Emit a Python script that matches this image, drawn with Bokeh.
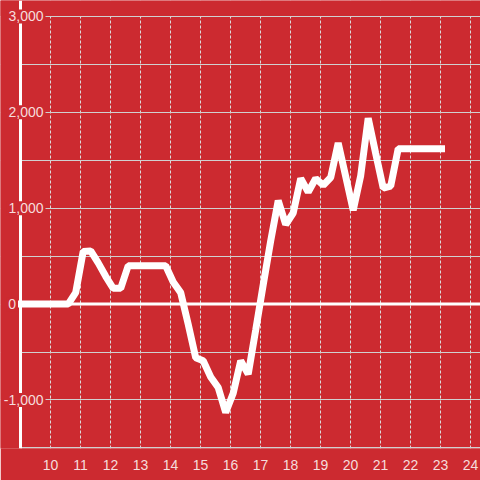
from bokeh.plotting import figure
from bokeh.models import ColumnDataSource, Span, FixedTicker, Range1d, BoxAnnotation
from bokeh.core.properties import value
from bokeh.embed import file_html
from bokeh.resources import INLINE

# data
hours = [8.9, 10.59, 10.84, 11.09, 11.34, 11.59, 11.84, 12.09, 12.34, 12.59, 12.84,
         13.09, 13.34, 13.59, 13.84, 14.09, 14.34, 14.59, 14.84, 15.09, 15.34,
         15.59, 15.84, 16.09, 16.34, 16.59, 16.84, 17.09, 17.34, 17.59, 17.84,
         18.09, 18.34, 18.59, 18.84, 19.09, 19.34, 19.59, 19.84, 20.09, 20.34,
         20.59, 20.84, 21.09, 21.34, 21.59, 21.84, 22.09, 22.34, 22.59, 22.84,
         23.09, 23.15]
values = [0, 0, 120, 550, 555, 430, 290, 165, 165, 400, 400,
          400, 400, 400, 400, 230, 120, -210, -560, -590, -760,
          -870, -1130, -930, -590, -730, -270, 200, 660, 1080, 830,
          950, 1310, 1170, 1310, 1240, 1320, 1680, 1330, 980, 1340,
          1940, 1570, 1210, 1230, 1620, 1620, 1620, 1620, 1620, 1620,
          1620, 1620]
x_ticks = [10, 11, 12, 13, 14, 15, 16, 17, 18, 19, 20, 21, 22, 23, 24]
y_grid = [-1500, -1000, -500, 0, 500, 1000, 1500, 2000, 2500, 3000]
y_label_vals = [3000, 2000, 1000, 0, -1000]
y_label_text = ["3,000", "2,000", "1,000", "0", "-1,000"]
y_label_off = [25, 25, 25, -2.5, 25]
axis_x = 9.0
y_top = 3000
x_start, x_end = 8.3333, 24.3333

RED = "#cc2a30"
TXT = "#f6dcdc"
FONT = "Liberation Sans"

p = figure(width=480, height=480, output_backend="svg", toolbar_location=None,
           x_range=Range1d(x_start, x_end), y_range=Range1d(-1506, 3166.7),
           y_axis_location=None,
           min_border_left=0, min_border_right=0, min_border_top=0,
           min_border_bottom=32)
p.background_fill_color = RED
p.border_fill_color = RED
p.outline_line_color = None

# x axis
p.xaxis.ticker = FixedTicker(ticks=x_ticks)
p.xaxis.axis_line_color = None
p.xaxis.major_tick_line_color = None
p.xaxis.minor_tick_line_color = None
p.xaxis.major_label_text_color = TXT
p.xaxis.major_label_text_font = FONT
p.xaxis.major_label_text_font_size = "14px"
p.xaxis.major_label_standoff = 5

# grids
p.xgrid.ticker = FixedTicker(ticks=x_ticks)
p.xgrid.grid_line_color = "#dcdcdc"
p.xgrid.grid_line_dash = "3 2"
p.xgrid.grid_line_width = 1
p.ygrid.ticker = FixedTicker(ticks=y_grid)
p.ygrid.grid_line_color = "#d0d0d0"
p.ygrid.grid_line_width = 1

# mask areas outside the plotting region (under the data)
p.add_layout(BoxAnnotation(right=axis_x, fill_color=RED, fill_alpha=1,
                           line_color=None, level="underlay"))
p.add_layout(BoxAnnotation(bottom=y_top + 4, fill_color=RED, fill_alpha=1,
                           line_color=None, level="underlay"))

# data line
p.line(hours, values, line_color="white", line_width=7)

# zero line
p.line([hours[0], x_end], [0, 0], line_color="white", line_width=3)

# vertical axis line
p.add_layout(Span(location=axis_x, dimension="height", line_color="white", line_width=3))

# y labels with background boxes covering the axis line
src = ColumnDataSource(dict(x=[axis_x] * len(y_label_vals), y=y_label_vals,
                            text=y_label_text, xoff=y_label_off))
r = p.text(x="x", y="y", text="text", x_offset="xoff", source=src,
           text_align="right", text_baseline="middle",
           text_color=TXT, text_font=value(FONT), text_font_size=value("14px"),
           background_fill_color=RED, padding=2)
r.level = "overlay"

open("out.html", "w").write(file_html(p, INLINE))
